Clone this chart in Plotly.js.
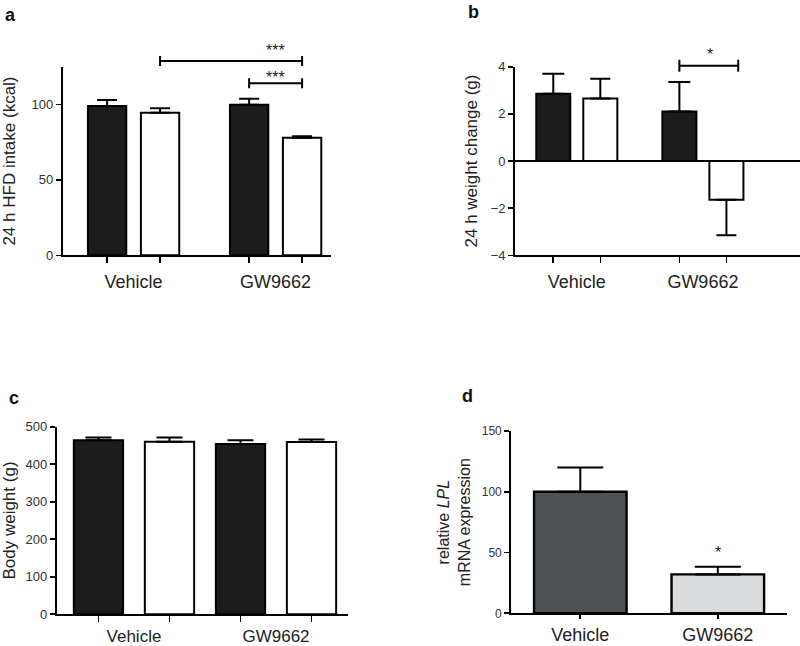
<!DOCTYPE html>
<html><head><meta charset="utf-8">
<script src="https://cdn.plot.ly/plotly-3.0.1.min.js"></script>
<style>html,body{margin:0;padding:0;background:#fff}#chart{width:800px;height:646px}</style>
</head><body><div id="chart"></div>
<script>
// ---------- data ----------
const categories = ['Vehicle', 'GW9662'];
// panel a: 24 h HFD intake (kcal)
const intakeFilled = [99.0, 99.8];
const intakeFilledErr = [4.0, 4.0];
const intakeOpen = [94.5, 78.0];
const intakeOpenErr = [3.0, 0.9];
// panel b: 24 h weight change (g)
const weightChangeFilled = [2.85, 2.10];
const weightChangeFilledErr = [0.85, 1.25];
const weightChangeOpen = [2.65, -1.64];
const weightChangeOpenErr = [0.84, 1.51];
// panel c: body weight (g)
const bodyWeightFilled = [464, 454];
const bodyWeightFilledErr = [7, 10];
const bodyWeightOpen = [460, 459];
const bodyWeightOpenErr = [11, 7];
// panel d: relative LPL mRNA expression
const lplExpression = [100, 32];
const lplExpressionErr = [20, 6.3];

// ---------- helpers ----------
const W = 800, H = 646;
const px = v => v / W, py = v => 1 - v / H;
const FONT = '"Liberation Sans", Arial, sans-serif';

function barTrace(vals, errs, shift, width, fill, xa, ya, capW, lw) {
  return {
    type: 'bar', x: vals.map((v, i) => i + shift), y: vals, width: width,
    xaxis: xa, yaxis: ya,
    marker: {color: fill, line: {color: '#000', width: lw || 2}},
    error_y: {type: 'data', symmetric: false,
      array: vals.map((v, i) => v >= 0 ? errs[i] : 0),
      arrayminus: vals.map((v, i) => v < 0 ? errs[i] : 0),
      color: '#000', thickness: 2, width: capW},
    hoverinfo: 'skip', showlegend: false
  };
}

function xAxis(domain, range, anchor, barPos, labelLen, minorLen, fsize) {
  const ax = {domain, range, anchor, showgrid: false, zeroline: false, showline: true,
    linecolor: '#000', linewidth: 1.8, tickmode: 'array', tickvals: [0, 1], ticktext: categories,
    ticks: 'outside', ticklen: labelLen, tickcolor: 'rgba(0,0,0,0)',
    tickfont: {family: FONT, size: fsize || 18, color: '#222'}, fixedrange: true};
  if (barPos) {
    ax.minor = {tickmode: 'array', tickvals: barPos, ticks: 'outside', ticklen: minorLen,
      tickcolor: '#000', tickwidth: 1.6, showgrid: false};
  } else {
    ax.tickcolor = '#000'; ax.tickwidth = 1.6;
  }
  return ax;
}
function yAxis(domain, range, anchor, dtick, title, standoff, tsize, titleSize, zeroline) {
  return {domain, range, anchor, showgrid: false, zeroline: !!zeroline, zerolinecolor: '#000', zerolinewidth: 1.8,
    showline: true, linecolor: '#000', linewidth: 1.8, ticks: 'outside', ticklen: 5, tickwidth: 1.6, tickcolor: '#000',
    tick0: 0, dtick: dtick, tickfont: {family: FONT, size: tsize, color: '#333'},
    title: {text: title, font: {family: FONT, size: titleSize, color: '#222'}, standoff: standoff}, fixedrange: true};
}
function bracket(xref, x0, x1, yPx, capPx) {
  const s = {type: 'line', xref: xref, yref: 'paper', line: {color: '#000', width: 2}};
  return [
    Object.assign({}, s, {x0: x0, x1: x1, y0: py(yPx), y1: py(yPx)}),
    Object.assign({}, s, {x0: x0, x1: x0, y0: py(yPx - capPx), y1: py(yPx + capPx)}),
    Object.assign({}, s, {x0: x1, x1: x1, y0: py(yPx - capPx), y1: py(yPx + capPx)})
  ];
}
function star(xref, x, yPx, txt) {
  return {xref: xref, yref: 'paper', x: x, y: py(yPx), text: txt, showarrow: false,
    xanchor: 'center', yanchor: 'middle', font: {family: FONT, size: 16, color: '#222'}};
}
function letter(xPx, yPx, txt, anchor) {
  return {xref: 'paper', yref: 'paper', x: px(xPx), y: py(yPx), text: '<b>' + txt + '</b>', showarrow: false,
    xanchor: 'center', yanchor: anchor || 'middle', font: {family: FONT, size: 18, color: '#111'}};
}

// bar geometry (fraction of a category)
const slotAB = 0.373, widthAB = 0.27;
const slotC = 0.5, widthC = 0.347;
const widthD = 0.673;
const posAB = [-slotAB / 2, slotAB / 2, 1 - slotAB / 2, 1 + slotAB / 2];
const posC = [-slotC / 2, slotC / 2, 1 - slotC / 2, 1 + slotC / 2];

const traces = [
  barTrace(intakeFilled, intakeFilledErr, -slotAB / 2, widthAB, '#1c1c1c', 'x', 'y', 10),
  barTrace(intakeOpen, intakeOpenErr, slotAB / 2, widthAB, '#ffffff', 'x', 'y', 10),
  barTrace(weightChangeFilled, weightChangeFilledErr, -slotAB / 2, widthAB, '#1c1c1c', 'x2', 'y2', 11),
  barTrace(weightChangeOpen, weightChangeOpenErr, slotAB / 2, widthAB, '#ffffff', 'x2', 'y2', 10),
  barTrace(bodyWeightFilled, bodyWeightFilledErr, -slotC / 2, widthC, '#1c1c1c', 'x3', 'y3', 13),
  barTrace(bodyWeightOpen, bodyWeightOpenErr, slotC / 2, widthC, '#ffffff', 'x3', 'y3', 13),
  {
    type: 'bar', x: [0, 1], y: lplExpression, width: widthD, xaxis: 'x4', yaxis: 'y4',
    marker: {color: ['#4f5254', '#d9dadb'], line: {color: '#000', width: 2.4}},
    error_y: {type: 'data', symmetric: false, array: lplExpressionErr, arrayminus: [0, 0],
      color: '#000', thickness: 2, width: 23},
    hoverinfo: 'skip', showlegend: false
  }
];

const layout = {
  width: W, height: H, margin: {l: 0, r: 0, t: 0, b: 0},
  paper_bgcolor: '#fff', plot_bgcolor: 'rgba(0,0,0,0)', barmode: 'overlay', showlegend: false,
  font: {family: FONT},
  xaxis: xAxis([px(62.7), px(331)], [-0.499, 1.39], 'y', posAB, 9, 6),
  yaxis: yAxis([py(255.3), py(66.75)], [0, 125], 'x', 50, '24 h HFD intake (kcal)', 16, 13, 17),
  xaxis2: xAxis([px(515), 1], [-0.49, 1.77], 'y2', posAB, 9, 6),
  yaxis2: yAxis([py(255.3), py(66.7)], [-4, 4], 'x2', 2, '24 h weight change (g)', 9, 13, 17, true),
  xaxis3: xAxis([px(56.7), px(348.3)], [-0.544, 1.509], 'y3', posC, 5, 6, 17),
  yaxis3: yAxis([py(614.3), py(426.7)], [0, 500], 'x3', 100, 'Body weight (g)', 10, 13, 17),
  xaxis4: xAxis([px(511), px(786.7)], [-0.504, 1.501], 'y4', null, 4, 4),
  yaxis4: yAxis([py(613.3), py(431)], [0, 150], 'x4', 50, 'relative <i>LPL</i><br>mRNA expression', 7, 12, 16),
  shapes: [].concat(
    bracket('x', posAB[1], posAB[3], 61, 5),
    bracket('x', posAB[2], posAB[3], 83.3, 5),
    bracket('x2', posAB[2], 1.28, 65.7, 6)
  ),
  annotations: [
    letter(10, 3, 'a', 'top'), letter(473, 0, 'b', 'top'), letter(14, 398, 'c'), letter(467, 396, 'd'),
    star('x', 1, 50, '***'), star('x', 1, 77, '***'),
    star('x2', 1.056, 55, '*'),
    star('x4', 1, 552, '*')
  ]
};

Plotly.newPlot('chart', traces, layout, {staticPlot: true, displayModeBar: false});
</script>
</body></html>
